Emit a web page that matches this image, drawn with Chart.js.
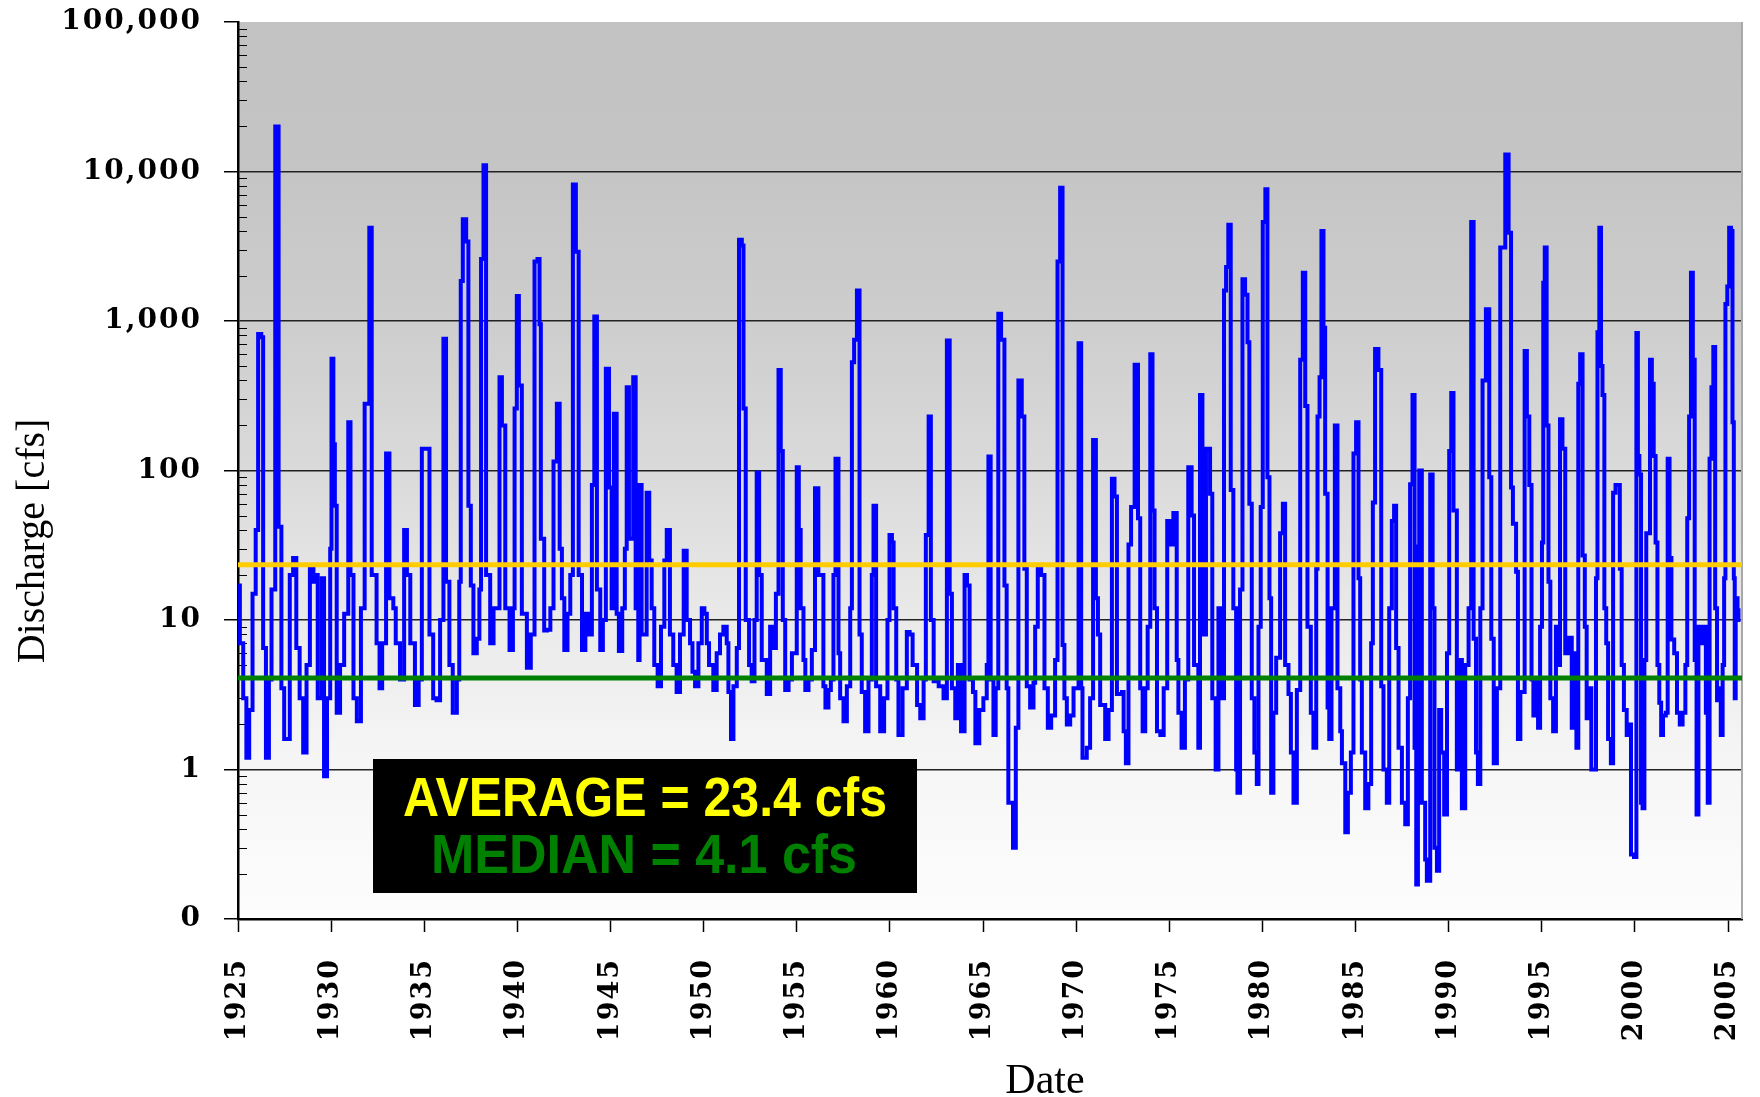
<!doctype html>
<html>
<head>
<meta charset="utf-8">
<title>Discharge</title>
<script src="https://cdn.jsdelivr.net/npm/chart.js@4.4.1/dist/chart.umd.min.js"></script>
<style>
  body { margin: 0; background: #fff; }
  #wrap { width: 1760px; height: 1097px; }
</style>
</head>
<body>
<div id="wrap"><canvas id="canvas" width="1760" height="1097"></canvas></div>
<script>
// monthly-ish discharge readings [decimal year, cfs]
var flow1925s = [[1925.00,17],[1925.10,7],[1925.28,3],[1925.45,1.2],[1925.6,2.5],[1925.78,15],[1925.95,40],[1926.08,820],[1926.25,780],[1926.35,6.5],[1926.5,1.2],[1926.66,4],[1926.8,16],[1927.0,20000],[1927.18,42],[1927.33,3.5],[1927.48,1.6],[1927.63,1.6],[1927.78,20],[1927.96,26],[1928.13,6.5],[1928.31,3],[1928.5,1.3],[1928.68,5],[1928.86,22],[1929.05,18],[1929.17,20],[1929.28,3],[1929.5,19],[1929.62,0.9],[1929.78,3],[1929.95,30],[1930.02,560],[1930.12,150],[1930.2,58],[1930.3,2.4],[1930.48,5],[1930.7,11],[1930.92,210],[1931.04,20],[1931.2,3],[1931.38,2.1],[1931.6,12],[1931.8,280],[1932.05,4200],[1932.18,20],[1932.44,7],[1932.6,3.5],[1932.74,7],[1932.95,130],[1933.13,14],[1933.34,12],[1933.47,7],[1933.7,4],[1933.92,40],[1934.07,20],[1934.25,7],[1934.5,2.7],[1934.7,4],[1934.87,140]];
var flow1935s = [[1935.1,140],[1935.28,8],[1935.48,3],[1935.66,2.9],[1935.85,10],[1936.03,760],[1936.17,18],[1936.35,5],[1936.53,2.4],[1936.75,4],[1936.88,18],[1936.96,1850],[1937.07,4800],[1937.25,3400],[1937.37,58],[1937.5,17],[1937.64,6],[1937.82,7.5],[1937.96,16],[1938.05,2600],[1938.18,11000],[1938.32,20],[1938.54,7],[1938.72,12],[1938.9,12],[1939.04,420],[1939.17,200],[1939.35,12],[1939.58,6.3],[1939.76,12],[1939.85,260],[1939.97,1470],[1940.08,370],[1940.24,11],[1940.51,4.8],[1940.72,8],[1940.92,2500],[1941.08,2600],[1941.19,950],[1941.26,35],[1941.44,8.5],[1941.59,8.6],[1941.77,12],[1941.94,115],[1942.12,280],[1942.27,30],[1942.39,14],[1942.52,6.3],[1942.69,11],[1942.84,20],[1942.98,8200],[1943.14,2900],[1943.29,20],[1943.47,6.3],[1943.65,11],[1943.83,8],[1944.0,80],[1944.13,1070],[1944.27,16],[1944.45,6.3],[1944.59,10],[1944.75,480],[1944.92,77]];
var flow1945s = [[1945.06,12],[1945.18,240],[1945.33,11],[1945.45,6.2],[1945.63,12],[1945.77,30],[1945.87,360],[1945.99,35],[1946.22,420],[1946.35,12],[1946.49,5.4],[1946.56,80],[1946.67,8],[1946.94,71],[1947.08,25],[1947.21,12],[1947.35,5],[1947.53,3.6],[1947.71,9],[1947.89,25],[1948.02,40],[1948.19,8],[1948.37,5],[1948.55,3.3],[1948.73,8],[1948.93,29],[1949.09,10],[1949.27,7],[1949.4,4.5],[1949.54,3.6],[1949.72,7],[1949.9,12],[1950.04,11],[1950.17,7],[1950.29,5],[1950.52,3.4],[1950.7,6],[1950.88,8],[1951.06,9],[1951.24,7],[1951.33,3.3],[1951.47,1.6],[1951.6,3.6],[1951.78,6.5],[1951.9,3500],[1952.05,3200],[1952.14,260],[1952.26,10],[1952.44,5],[1952.58,3.9],[1952.73,10],[1952.85,97],[1952.98,20],[1953.12,5.4],[1953.39,3.2],[1953.57,9],[1953.75,6.5],[1953.88,15],[1954.02,470],[1954.14,135],[1954.25,10],[1954.38,3.4],[1954.56,4],[1954.74,6]];
var flow1955s = [[1955.0,105],[1955.11,40],[1955.21,12],[1955.36,5.4],[1955.46,3.4],[1955.63,4],[1955.81,6.3],[1955.98,76],[1956.16,20],[1956.31,20],[1956.43,3.6],[1956.54,2.6],[1956.7,3.4],[1956.83,4],[1956.97,20],[1957.08,120],[1957.24,6],[1957.33,3],[1957.51,2.1],[1957.69,3.6],[1957.87,12],[1957.96,530],[1958.08,750],[1958.23,1600],[1958.37,8],[1958.49,3.3],[1958.67,1.8],[1958.85,4],[1959.03,20],[1959.12,58],[1959.26,3.6],[1959.48,1.8],[1959.69,3],[1959.87,10],[1959.98,37],[1960.11,33],[1960.2,12],[1960.34,4],[1960.46,1.7],[1960.68,3.5],[1960.91,8.3],[1961.06,8],[1961.22,5],[1961.46,2.7],[1961.63,2.2],[1961.81,4],[1961.93,37],[1962.08,230],[1962.2,10],[1962.35,3.9],[1962.62,3.6],[1962.88,3],[1963.06,740],[1963.21,15],[1963.33,3.5],[1963.51,2.2],[1963.65,5],[1963.82,1.8],[1964.01,20],[1964.14,17],[1964.28,4],[1964.46,3.3],[1964.59,1.5],[1964.8,2.5]];
var flow1965s = [[1965.02,3],[1965.2,5],[1965.29,124],[1965.41,4],[1965.56,1.7],[1965.68,3.5],[1965.82,1120],[1965.97,750],[1966.15,17],[1966.27,3.5],[1966.36,0.6],[1966.61,0.3],[1966.76,1.9],[1966.9,400],[1967.08,230],[1967.22,22],[1967.35,3.6],[1967.53,2.6],[1967.71,3.8],[1967.8,9],[1967.94,23],[1968.12,20],[1968.3,3.5],[1968.48,1.9],[1968.66,2.3],[1968.87,5.4],[1969.0,2500],[1969.14,7800],[1969.27,6.8],[1969.37,3],[1969.5,2.0],[1969.68,2.3],[1969.86,3.5],[1970.13,710],[1970.27,3.5],[1970.34,1.2],[1970.57,1.4],[1970.75,3],[1970.91,160],[1971.06,14],[1971.17,8],[1971.29,2.7],[1971.56,1.6],[1971.74,2.5],[1971.92,88],[1972.06,67],[1972.19,3.2],[1972.46,3.3],[1972.55,1.8],[1972.67,1.1],[1972.81,32],[1972.95,57],[1973.14,510],[1973.32,48],[1973.44,3.5],[1973.57,1.8],[1973.71,3.5],[1973.84,9],[1973.98,600],[1974.1,54],[1974.21,12],[1974.34,1.8],[1974.52,1.7],[1974.7,3.5]];
var flow1975s = [[1974.89,46],[1975.04,32],[1975.22,52],[1975.4,5.4],[1975.49,2.4],[1975.66,1.4],[1975.84,4],[1976.02,105],[1976.2,50],[1976.33,5],[1976.56,1.4],[1976.65,320],[1976.78,8],[1976.97,140],[1977.19,70],[1977.31,3],[1977.49,1.0],[1977.64,12],[1977.76,3],[1977.94,1600],[1978.05,2300],[1978.17,4400],[1978.3,74],[1978.44,12],[1978.59,1.0],[1978.66,0.7],[1978.8,16],[1978.93,1900],[1979.07,1500],[1979.2,720],[1979.3,60],[1979.43,3],[1979.57,1.3],[1979.7,0.8],[1979.79,9],[1979.91,57],[1980.02,4600],[1980.16,7600],[1980.27,90],[1980.38,14],[1980.47,0.7],[1980.59,2.4],[1980.74,5.6],[1980.95,38],[1981.1,60],[1981.22,5],[1981.4,3.2],[1981.53,1.3],[1981.67,0.6],[1981.85,3.4],[1982.03,550],[1982.17,2100],[1982.3,270],[1982.42,9],[1982.6,2.4],[1982.74,1.4],[1982.89,22],[1982.96,230],[1983.07,420],[1983.17,4000],[1983.28,900],[1983.37,70],[1983.5,2.6],[1983.59,1.6],[1983.71,12],[1983.89,200],[1984.03,3.5],[1984.18,1.8],[1984.27,1.1],[1984.45,0.38],[1984.59,0.7],[1984.75,1.3]];
var flow1985s = [[1984.89,130],[1985.03,210],[1985.16,19],[1985.25,4],[1985.34,1.3],[1985.52,0.55],[1985.69,0.8],[1985.84,7],[1985.93,61],[1986.05,650],[1986.23,470],[1986.38,3.6],[1986.5,1.0],[1986.68,0.6],[1986.81,12],[1986.95,46],[1987.07,58],[1987.18,6.5],[1987.31,1.4],[1987.49,0.6],[1987.67,0.43],[1987.81,3],[1987.93,81],[1988.06,320],[1988.17,1.4],[1988.26,0.17],[1988.35,31],[1988.42,100],[1988.56,0.6],[1988.74,0.25],[1988.83,0.18],[1989.01,94],[1989.14,12],[1989.24,0.3],[1989.37,0.21],[1989.49,2.5],[1989.6,1.3],[1989.76,0.5],[1989.91,6],[1990.03,135],[1990.14,330],[1990.26,54],[1990.44,1],[1990.62,5.4],[1990.71,0.55],[1990.89,5],[1991.07,12],[1991.21,4600],[1991.34,7.5],[1991.47,1.3],[1991.57,0.8],[1991.7,12],[1991.82,400],[1992.0,1200],[1992.18,90],[1992.29,7.5],[1992.42,1.1],[1992.59,3.5],[1992.77,3100],[1993.04,13000],[1993.22,3900],[1993.35,77],[1993.45,44],[1993.62,21],[1993.72,1.6],[1993.85,3.3],[1994.08,630],[1994.2,230],[1994.33,80],[1994.45,4],[1994.55,2.3],[1994.66,4],[1994.8,1.9]];
var flow1995s = [[1994.91,9],[1995.01,33],[1995.08,1800],[1995.16,3100],[1995.26,200],[1995.36,18],[1995.46,3],[1995.61,1.8],[1995.76,9],[1995.86,5],[1995.98,220],[1996.11,140],[1996.26,6],[1996.41,7.6],[1996.61,1.9],[1996.76,6],[1996.86,1.4],[1996.96,380],[1997.06,600],[1997.19,27],[1997.31,9],[1997.41,2.2],[1997.53,3.5],[1997.66,1.0],[1997.81,1.0],[1997.91,19],[1997.99,840],[1998.09,4200],[1998.18,500],[1998.26,320],[1998.36,12],[1998.46,7],[1998.56,1.6],[1998.71,1.1],[1998.83,71],[1998.96,80],[1999.09,80],[1999.19,22],[1999.29,5],[1999.41,2.5],[1999.56,1.7],[1999.69,2],[1999.79,0.27],[1999.95,0.26],[2000.08,830],[2000.16,125],[2000.24,94],[2000.33,0.6],[2000.41,0.55],[2000.51,5.4],[2000.61,38],[2000.71,38],[2000.81,550],[2000.91,380],[2001.01,125],[2001.11,33],[2001.21,5],[2001.31,2.8],[2001.41,1.7],[2001.51,2.3],[2001.66,2.4],[2001.76,120],[2001.86,26],[2001.96,7.4],[2002.11,6],[2002.26,2.4],[2002.41,2],[2002.56,2.4],[2002.71,5],[2002.81,48],[2002.91,230],[2003.01,2100],[2003.11,550],[2003.21,5.4],[2003.31,0.5],[2003.41,9],[2003.51,7],[2003.61,8.5],[2003.71,9],[2003.81,2.4],[2003.91,0.6],[2004.01,120],[2004.11,360],[2004.21,670],[2004.31,12],[2004.41,2.9],[2004.51,3.5],[2004.61,1.7],[2004.71,5],[2004.79,19],[2004.86,1300],[2004.96,1700],[2005.06,4200],[2005.16,4000],[2005.24,210],[2005.31,19],[2005.36,3],[2005.41,14],[2005.51,10],[2005.56,12]];

var AVERAGE_CFS = 23.4;
var MEDIAN_CFS = 4.1;
var yearTicks = [1925, 1930, 1935, 1940, 1945, 1950, 1955, 1960, 1965, 1970, 1975, 1980, 1985, 1990, 1995, 2000, 2005];
var flowTicks = [0.1, 1, 10, 100, 1000, 10000, 100000];
var X_MIN = 1925, X_MAX = 2005.75;

var flows = [].concat(flow1925s, flow1935s, flow1945s, flow1955s, flow1965s, flow1975s, flow1985s, flow1995s)
    .map(function (p) { return {x: p[0], y: p[1]}; });

function flatLine(v) {
    return [{x: X_MIN, y: v}, {x: X_MAX, y: v}];
}

var decor = {
    id: 'decor',
    beforeDraw: function (chart) {
        var ctx = chart.ctx, a = chart.chartArea;
        ctx.save();
        var g = ctx.createLinearGradient(0, a.top, 0, a.bottom);
        g.addColorStop(0, '#c2c2c2');
        g.addColorStop(0.17, '#c5c5c5');
        g.addColorStop(0.33, '#cdcdcd');
        g.addColorStop(0.5, '#dadada');
        g.addColorStop(0.67, '#eaeaea');
        g.addColorStop(0.83, '#f6f6f6');
        g.addColorStop(1, '#fdfdfd');
        ctx.fillStyle = g;
        ctx.fillRect(a.left, a.top, a.right - a.left, a.bottom - a.top);
        ctx.restore();
        ctx.letterSpacing = '2px';
    },
    beforeDatasetsDraw: function (chart) {
        var ctx = chart.ctx, a = chart.chartArea, y = chart.scales.y;
        ctx.letterSpacing = '0px';
        ctx.save();
        ctx.strokeStyle = '#000';
        ctx.lineWidth = 1;
        for (var d = 0; d < flowTicks.length - 1; d++) {
            for (var m = 2; m <= 9; m++) {
                var py = Math.round(y.getPixelForValue(flowTicks[d] * m)) + 0.5;
                ctx.beginPath();
                ctx.moveTo(a.left, py);
                ctx.lineTo(a.left + 9, py);
                ctx.stroke();
            }
        }
        // light right frame
        ctx.strokeStyle = '#a8a8a8';
        ctx.lineWidth = 2;
        ctx.beginPath();
        ctx.moveTo(a.right, a.top);
        ctx.lineTo(a.right, a.bottom);
        ctx.stroke();
        ctx.restore();
    },
    afterDatasetsDraw: function (chart) {
        var ctx = chart.ctx;
        ctx.save();
        ctx.fillStyle = '#000';
        ctx.fillRect(373, 759, 544, 134);
        ctx.font = 'bold 56px "Liberation Sans", Arial, sans-serif';
        ctx.textAlign = 'center';
        ctx.textBaseline = 'alphabetic';
        ctx.fillStyle = '#ffff00';
        ctx.fillText('AVERAGE = ' + AVERAGE_CFS + ' cfs', 645, 816, 484);
        ctx.fillStyle = '#008000';
        ctx.fillText('MEDIAN = ' + MEDIAN_CFS + ' cfs', 644, 873, 426);
        ctx.restore();
    },
    afterDraw: function (chart) {
        var ctx = chart.ctx;
        ctx.save();
        ctx.letterSpacing = '0px';
        ctx.fillStyle = '#000';
        ctx.textAlign = 'center';
        ctx.textBaseline = 'alphabetic';
        ctx.font = '42px "Liberation Serif", "Times New Roman", serif';
        ctx.fillText('Date', 1045, 1093);
        ctx.translate(44, 541);
        ctx.rotate(-Math.PI / 2);
        ctx.font = '40px "Liberation Serif", "Times New Roman", serif';
        ctx.fillText('Discharge [cfs]', 0, 0);
        ctx.restore();
    }
};

var yTickFont = {family: '"DejaVu Serif", serif', size: 28, weight: 'bold'};
var xTickFont = {family: '"DejaVu Serif", serif', size: 27, weight: 'bold'};

var ctx = document.getElementById('canvas').getContext('2d');
window.flowChart = new Chart(ctx, {
    type: 'line',
    data: {
        datasets: [{
            label: 'Average',
            data: flatLine(AVERAGE_CFS),
            borderColor: '#ffcc00',
            borderWidth: 5,
            pointRadius: 0,
            order: 0
        }, {
            label: 'Median',
            data: flatLine(MEDIAN_CFS),
            borderColor: '#008000',
            borderWidth: 5,
            pointRadius: 0,
            order: 0
        }, {
            label: 'Discharge',
            data: flows,
            borderColor: '#0000ff',
            borderWidth: 4,
            pointRadius: 0,
            stepped: true,
            order: 2
        }]
    },
    options: {
        responsive: false,
        animation: false,
        layout: {padding: {top: 22, right: 18, left: 0, bottom: 0}},
        plugins: {
            legend: {display: false},
            tooltip: {enabled: false}
        },
        scales: {
            x: {
                type: 'linear',
                min: X_MIN,
                max: X_MAX,
                afterBuildTicks: function (s) {
                    s.ticks = yearTicks.map(function (v) { return {value: v}; });
                },
                afterFit: function (s) {
                    s.height = 178;
                    s.paddingLeft = 0;
                    s.paddingRight = 0;
                },
                grid: {drawOnChartArea: false, drawTicks: true, tickLength: 13, tickColor: '#000', tickWidth: 1.5},
                border: {display: true, color: '#000', width: 2.5},
                ticks: {
                    autoSkip: false, minRotation: 90, maxRotation: 90, padding: 26,
                    color: '#000', font: xTickFont,
                    callback: function (v) { return String(v); }
                }
            },
            y: {
                type: 'logarithmic',
                min: 0.1,
                max: 100000,
                afterBuildTicks: function (s) {
                    s.ticks = flowTicks.map(function (v) { return {value: v}; });
                },
                afterFit: function (s) {
                    s.width = 238;
                    s.paddingTop = 0;
                    s.paddingBottom = 0;
                },
                grid: {
                    color: function (c) { return c.tick && c.tick.value >= 100000 ? 'rgba(0,0,0,0)' : '#222'; },
                    lineWidth: 1.5, tickLength: 14, tickColor: '#000', tickWidth: 1.5
                },
                border: {display: true, color: '#000', width: 2.5},
                ticks: {
                    padding: 22, color: '#000', font: yTickFont,
                    callback: function (v) { return v < 1 ? '0' : Number(v).toLocaleString('en-US'); }
                }
            }
        }
    },
    plugins: [decor]
});
</script>
</body>
</html>
